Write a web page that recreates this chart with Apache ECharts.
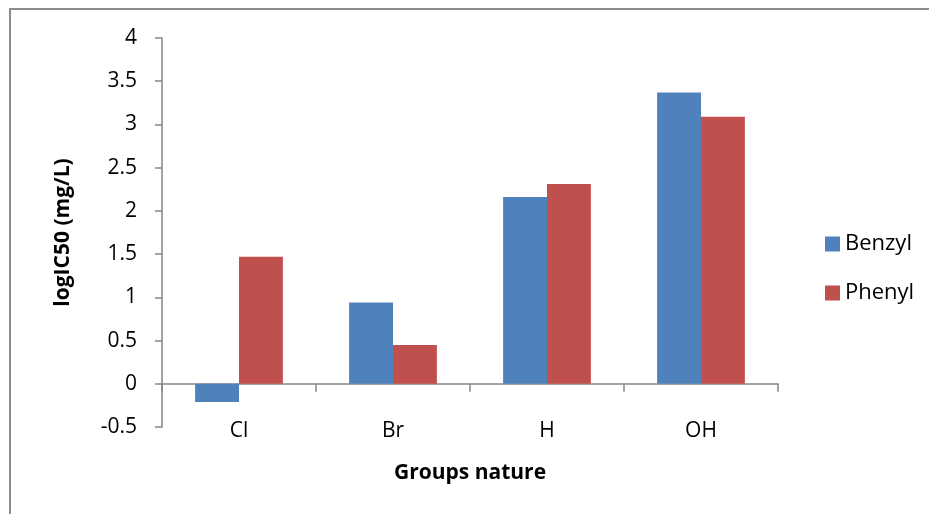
<!DOCTYPE html>
<html>
<head>
<meta charset="utf-8">
<script src="https://cdn.jsdelivr.net/npm/echarts@6/dist/echarts.min.js"></script>
<style>
html,body{margin:0;padding:0;background:#fff;}
#chart{width:929px;height:514px;}
</style>
</head>
<body>
<div id="chart"></div>
<script>
const categories = ['Cl', 'Br', 'H', 'OH'];
const benzyl = [-0.21, 0.94, 2.16, 3.37];
const phenyl = [1.47, 0.45, 2.31, 3.09];
const seriesNames = ['Benzyl', 'Phenyl'];
const yAxisTitle = 'logIC50 (mg/L)';
const xAxisTitle = 'Groups nature';

const FONT = '"Open Sans", "Noto Sans", sans-serif';
const axisColor = '#868686';

const chart = echarts.init(document.getElementById('chart'), null, {renderer: 'canvas'});
chart.setOption({
  animation: false,
  backgroundColor: '#fff',
  graphic: [{
    type: 'rect',
    shape: {x: 10, y: 9, width: 2000, height: 2000},
    style: {fill: 'none', stroke: '#8c8c8c', lineWidth: 2},
    silent: true
  }],
  grid: {left: 162, right: 151, top: 38, bottom: 87, containLabel: false, outerBoundsMode: 'none'},
  legend: {
    orient: 'vertical',
    left: 820,
    top: 228,
    itemWidth: 15,
    itemHeight: 15,
    itemGap: 27,
    icon: 'rect',
    textStyle: {fontFamily: FONT, fontSize: 22, color: '#000', lineHeight: 22},
    data: seriesNames
  },
  xAxis: {
    type: 'category',
    data: categories,
    name: xAxisTitle,
    nameLocation: 'middle',
    nameGap: 36,
    nameTextStyle: {fontFamily: FONT, fontSize: 21, fontWeight: 'bold', color: '#000'},
    axisLine: {onZero: true, lineStyle: {color: axisColor, width: 1.5}},
    axisTick: {show: true, length: 8, inside: false, lineStyle: {color: axisColor, width: 1.5}},
    axisLabel: {fontFamily: FONT, fontSize: 21, color: '#000', margin: -6},
    splitLine: {show: false}
  },
  yAxis: {
    type: 'value',
    min: -0.5,
    max: 4,
    interval: 0.5,
    name: yAxisTitle,
    nameLocation: 'middle',
    nameGap: 88,
    nameTextStyle: {fontFamily: FONT, fontSize: 21, fontWeight: 'bold', color: '#000'},
    axisLine: {show: true, lineStyle: {color: axisColor, width: 1.5}},
    axisTick: {show: true, length: 7, lineStyle: {color: axisColor, width: 1.5}},
    axisLabel: {fontFamily: FONT, fontSize: 21, color: '#000', margin: 25},
    splitLine: {show: false}
  },
  series: [
    {name: seriesNames[0], type: 'bar', data: benzyl, barGap: '0%', barCategoryGap: '43%',
     itemStyle: {color: '#4F81BD'}},
    {name: seriesNames[1], type: 'bar', data: phenyl, barGap: '0%', barCategoryGap: '43%',
     itemStyle: {color: '#C0504D'}}
  ]
});
</script>
</body>
</html>
